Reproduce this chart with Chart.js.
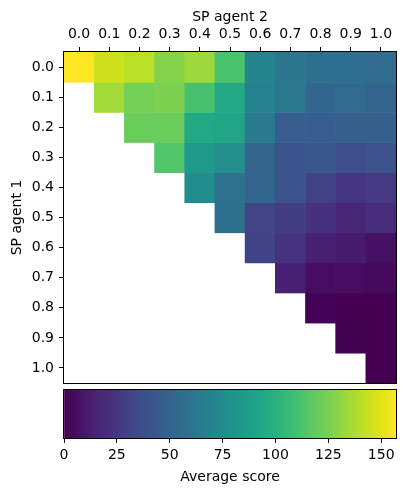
<!DOCTYPE html>
<html>
<head>
<meta charset="utf-8">
<script src="https://cdn.jsdelivr.net/npm/chart.js@4.4.0/dist/chart.umd.min.js"></script>
<style>
body { margin: 0; background: #fff; }
#heat { position: absolute; left: 0; top: 0; }
#cbar { position: absolute; left: 0; top: 386px; }
</style>
</head>
<body>
<canvas id="heat" width="407" height="386"></canvas>
<canvas id="cbar" width="407" height="108"></canvas>
<script>
// SP agent 2 along the top, SP agent 1 down the side
const colLabels = ['0.0', '0.1', '0.2', '0.3', '0.4', '0.5', '0.6', '0.7', '0.8', '0.9', '1.0'];
const rowLabels = ['0.0', '0.1', '0.2', '0.3', '0.4', '0.5', '0.6', '0.7', '0.8', '0.9', '1.0'];

// average score, one row per SP agent 1 value (null = not played)
const row00 = [157, 145, 141, 128, 134, 112, 70, 61, 56, 56, 55];
const row01 = [null, 135, 124, 126, 111, 94, 69, 62, 52, 54, 50];
const row02 = [null, null, 121, 121, 94, 93, 64, 46, 46, 47, 47];
const row03 = [null, null, null, 114, 84, 77, 50, 40, 43, 37, 39];
const row04 = [null, null, null, null, 76, 58, 51, 39, 30, 24, 26];
const row05 = [null, null, null, null, null, 57, 32, 28, 22, 16, 20];
const row06 = [null, null, null, null, null, null, 31, 23, 14, 12, 7];
const row07 = [null, null, null, null, null, null, null, 14, 5, 5, 4];
const row08 = [null, null, null, null, null, null, null, null, 1, 0, 0];
const row09 = [null, null, null, null, null, null, null, null, null, 0.5, 0];
const row10 = [null, null, null, null, null, null, null, null, null, null, 0];
const scores = [row00, row01, row02, row03, row04, row05, row06, row07, row08, row09, row10];

const cbarTicks = [0, 25, 50, 75, 100, 125, 150];

const allVals = scores.flat().filter(v => v !== null);
const vmin = Math.min(...allVals);
const vmax = Math.max(...allVals);

// matplotlib viridis, sampled every 0.05
const viridisStops = ['#440154', '#471365', '#482475', '#463480', '#414487', '#3b528b', '#355f8d',
  '#2f6c8e', '#2a788e', '#25848e', '#21918c', '#1e9c89', '#22a884', '#2fb47c', '#44bf70',
  '#5ec962', '#7ad151', '#9bd93c', '#bddf26', '#dfe318', '#fde725'];

function hexRgb(h) {
  return [parseInt(h.slice(1, 3), 16), parseInt(h.slice(3, 5), 16), parseInt(h.slice(5, 7), 16)];
}
function viridis(t) {
  t = Math.max(0, Math.min(1, t));
  const p = t * (viridisStops.length - 1);
  const i = Math.min(Math.floor(p), viridisStops.length - 2);
  const f = p - i;
  const a = hexRgb(viridisStops[i]), b = hexRgb(viridisStops[i + 1]);
  const c = a.map((x, k) => Math.round(x + (b[k] - x) * f));
  return 'rgb(' + c.join(',') + ')';
}

Chart.defaults.font.family = '"DejaVu Sans", sans-serif';
Chart.defaults.font.size = 14;
Chart.defaults.color = '#000';

const frame = {
  id: 'frame',
  afterDatasetsDraw(chart) {
    const a = chart.chartArea;
    const ctx = chart.ctx;
    ctx.save();
    ctx.strokeStyle = '#000';
    ctx.lineWidth = 1;
    ctx.strokeRect(Math.round(a.left) - 0.5, Math.round(a.top) - 0.5,
      Math.round(a.right - a.left) + 1, Math.round(a.bottom - a.top) + 1);
    ctx.restore();
  }
};

// cells overlap the next row a hair so no white seams show between rows
const seam = 0.02;
const last = rowLabels.length - 1;
const heatSets = rowLabels.map((r, i) => ({
  label: r,
  data: scores[i].map(v => v === null ? null : [i - 0.5, i + 0.5 + (i < last ? seam : 0)]),
  backgroundColor: scores[i].map(v => v === null ? 'rgba(0,0,0,0)' : viridis((v - vmin) / (vmax - vmin))),
  borderWidth: 0,
  grouped: false,
  categoryPercentage: 1,
  barPercentage: 1.02
}));

new Chart(document.getElementById('heat'), {
  type: 'bar',
  data: { labels: colLabels, datasets: heatSets },
  options: {
    responsive: false,
    animation: false,
    layout: { padding: { left: 0, right: 11, top: 0, bottom: 3 } },
    plugins: { legend: { display: false }, tooltip: { enabled: false } },
    scales: {
      x: {
        type: 'category',
        position: 'top',
        offset: true,
        grid: { offset: false, drawOnChartArea: false, drawTicks: true, tickLength: 5, color: '#000', lineWidth: 1 },
        border: { display: false },
        ticks: { padding: 4.5, maxRotation: 0, autoSkip: false },
        title: { display: true, text: 'SP agent 2', padding: { top: 8.5, bottom: 0 } },
        afterFit(s) { s.height = 52; }
      },
      y: {
        type: 'linear',
        reverse: true,
        min: -0.5,
        max: 10.5,
        afterBuildTicks(s) {
          s.ticks = rowLabels.map((r, i) => ({ value: i }));
        },
        grid: { drawOnChartArea: false, drawTicks: true, tickLength: 5, color: '#000', lineWidth: 1 },
        border: { display: false },
        ticks: { padding: 5, callback: v => rowLabels[v] },
        title: { display: true, text: 'SP agent 1', padding: { top: 8.5, bottom: 0 } },
        afterFit(s) { s.width = 64; s.paddingTop = 0; s.paddingBottom = 0; }
      }
    }
  },
  plugins: [frame]
});

new Chart(document.getElementById('cbar'), {
  type: 'bar',
  data: {
    labels: ['Average score'],
    datasets: [{
      data: [[vmin, vmax]],
      borderWidth: 0,
      categoryPercentage: 1,
      barPercentage: 1,
      backgroundColor(ctx) {
        const chart = ctx.chart;
        if (!chart.chartArea) return null;
        const xs = chart.scales.x;
        const x0 = xs.getPixelForValue(vmin), x1 = xs.getPixelForValue(vmax);
        const g = chart.ctx.createLinearGradient(x0, 0, x1, 0);
        viridisStops.forEach((c, i) => g.addColorStop(i / (viridisStops.length - 1), c));
        return g;
      }
    }]
  },
  options: {
    indexAxis: 'y',
    responsive: false,
    animation: false,
    layout: { padding: { left: 64, right: 11, top: 4, bottom: 0 } },
    plugins: { legend: { display: false }, tooltip: { enabled: false } },
    scales: {
      x: {
        type: 'linear',
        min: vmin,
        max: vmax,
        afterBuildTicks(s) { s.ticks = cbarTicks.map(v => ({ value: v })); },
        grid: { drawOnChartArea: false, drawTicks: true, tickLength: 5, color: '#000', lineWidth: 1 },
        border: { display: false },
        ticks: { padding: 4 },
        title: { display: true, text: 'Average score', padding: { top: 0, bottom: 8 } },
        afterFit(s) { s.height = 56; }
      },
      y: { display: false }
    }
  },
  plugins: [frame]
});
</script>
</body>
</html>
